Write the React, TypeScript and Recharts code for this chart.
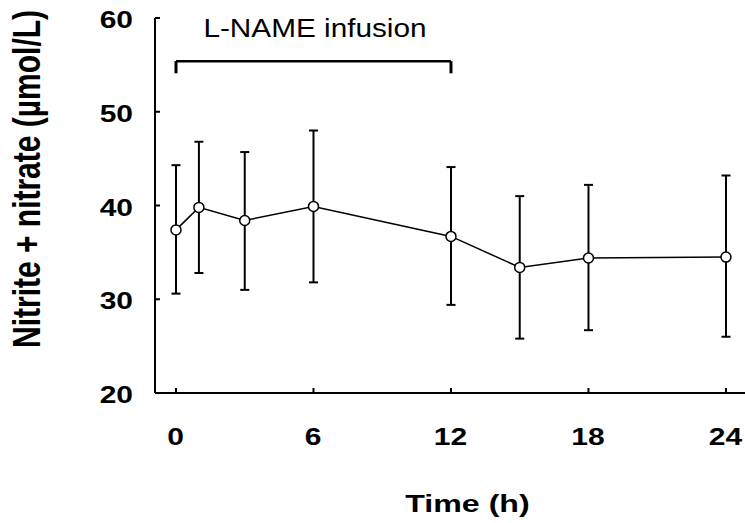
import React from 'react';
import {
  ComposedChart,
  Line,
  XAxis,
  YAxis,
  ErrorBar,
  ReferenceLine,
  ReferenceDot,
} from 'recharts';

// ---- data ----
const hours = [0, 1, 3, 6, 12, 15, 18, 24];
const meanValues = [37.4, 39.8, 38.4, 39.9, 36.7, 33.4, 34.4, 34.5];
const upperValues = [44.3, 46.8, 45.7, 48.0, 44.1, 41.0, 42.2, 43.2];
const lowerValues = [30.6, 32.8, 31.0, 31.8, 29.4, 25.8, 26.7, 26.0];

const xTicks = [0, 6, 12, 18, 24];
const yTicks = [20, 30, 40, 50, 60];

const infusionStart = 0;
const infusionEnd = 12;
const infusionMid = 6;
const bracketTop = 55.4;
const bracketFoot = 54.1;

const infusionLabel = 'L-NAME infusion';
const xTitle = 'Time (h)';
const yTitle = 'Nitrite + nitrate (µmol/L)';

const FONT = '"Liberation Sans", Arial, Helvetica, sans-serif';

const data = hours.map((h, i) => ({
  h,
  v: meanValues[i],
  err: [meanValues[i] - lowerValues[i], upperValues[i] - meanValues[i]],
}));

const YTick = (props: any) => {
  const { x, y, payload } = props;
  return (
    <text
      transform={`translate(${x - 27},${y + 10}) scale(1.25,1)`}
      textAnchor="end"
      fontSize={24}
      fontWeight="bold"
      fontFamily={FONT}
      fill="#000"
    >
      {payload.value}
    </text>
  );
};

const XTick = (props: any) => {
  const { x, y, payload } = props;
  return (
    <text
      transform={`translate(${x - 0.5},${y + 57}) scale(1.25,1)`}
      textAnchor="middle"
      fontSize={24}
      fontWeight="bold"
      fontFamily={FONT}
      fill="#000"
    >
      {payload.value}
    </text>
  );
};

const XTitle = (props: any) => {
  const vb = props && props.viewBox ? props.viewBox : { x: 155, y: 393, width: 590, height: 130 };
  const cx = vb.x + vb.width / 2 + 17.5;
  const by = vb.y + 119;
  return (
    <text
      transform={`translate(${cx},${by}) scale(1.34,1)`}
      textAnchor="middle"
      fontSize={24}
      fontWeight="bold"
      fontFamily={FONT}
      fill="#000"
    >
      {xTitle}
    </text>
  );
};

const YTitle = () => {
  return (
    <text
      transform={`translate(40,179) scale(1.3,1) rotate(-90)`}
      textAnchor="middle"
      fontSize={30}
      fontWeight="bold"
      fontFamily={FONT}
      fill="#000"
    >
      {yTitle}
    </text>
  );
};

const InfusionText = (props: any) => {
  const { cx, cy } = props;
  return (
    <text
      transform={`translate(${cx + 1.5},${cy - 24}) scale(1.19,1)`}
      textAnchor="middle"
      fontSize={25}
      fontFamily={FONT}
      fill="#000"
    >
      {infusionLabel}
    </text>
  );
};

export default function App() {
  return (
    <div style={{ position: 'absolute', left: 0, top: 0, background: '#fff' }}>
      <ComposedChart
        width={745}
        height={523}
        data={data}
        margin={{ top: 18, right: 0, bottom: 0, left: 0 }}
      >
        <XAxis
          dataKey="h"
          type="number"
          domain={[-0.916, 24.83]}
          allowDataOverflow
          ticks={xTicks}
          height={130}
          tickSize={-5}
          tickMargin={0}
          axisLine={{ stroke: '#000', strokeWidth: 2 }}
          tickLine={{ stroke: '#000', strokeWidth: 2 }}
          tick={<XTick />}
          label={{ content: (p: any) => <XTitle {...p} /> }}
        />
        <YAxis
          type="number"
          domain={[20, 60]}
          allowDataOverflow
          ticks={yTicks}
          width={155}
          tickSize={-5}
          tickMargin={0}
          axisLine={{ stroke: '#000', strokeWidth: 2 }}
          tickLine={{ stroke: '#000', strokeWidth: 2 }}
          tick={<YTick />}
          label={{ content: () => <YTitle /> }}
        />
        <ReferenceLine
          segment={[
            { x: infusionStart, y: bracketTop },
            { x: infusionEnd, y: bracketTop },
          ]}
          stroke="#000"
          strokeWidth={2.5}
          ifOverflow="visible"
        />
        <ReferenceLine
          segment={[
            { x: infusionStart, y: bracketTop },
            { x: infusionStart, y: bracketFoot },
          ]}
          stroke="#000"
          strokeWidth={3}
          ifOverflow="visible"
        />
        <ReferenceLine
          segment={[
            { x: infusionEnd, y: bracketTop },
            { x: infusionEnd, y: bracketFoot },
          ]}
          stroke="#000"
          strokeWidth={3}
          ifOverflow="visible"
        />
        <ReferenceDot
          x={infusionMid}
          y={bracketTop}
          r={0}
          ifOverflow="visible"
          shape={(p: any) => <InfusionText {...p} />}
        />
        <Line
          type="linear"
          dataKey="v"
          stroke="#000"
          strokeWidth={1.5}
          dot={{ r: 5, fill: '#fff', stroke: '#000', strokeWidth: 1.5 }}
          isAnimationActive={false}
        >
          <ErrorBar dataKey="err" direction="y" width={4.5} stroke="#000" strokeWidth={2} isAnimationActive={false} />
        </Line>
      </ComposedChart>
    </div>
  );
}
